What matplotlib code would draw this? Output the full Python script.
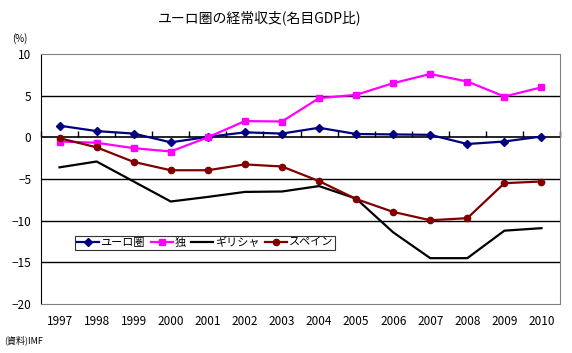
import numpy as np
import matplotlib
matplotlib.use("Agg")
import matplotlib.pyplot as plt

plt.rcParams['font.family'] = ['Noto Sans CJK JP', 'DejaVu Sans']

years = ["1997", "1998", "1999", "2000", "2001", "2002", "2003",
         "2004", "2005", "2006", "2007", "2008", "2009", "2010"]
euro = [1.4, 0.75, 0.45, -0.6, 0.05, 0.6, 0.45, 1.15, 0.4, 0.35, 0.3, -0.8, -0.5, 0.1]
germany = [-0.5, -0.65, -1.3, -1.7, 0.0, 1.95, 1.9, 4.7, 5.1, 6.5, 7.6, 6.7, 4.9, 6.0]
greece = [-3.6, -2.9, -5.3, -7.7, -7.15, -6.55, -6.5, -5.85, -7.35, -11.4, -14.5, -14.5, -11.2, -10.9]
spain = [-0.1, -1.2, -2.95, -3.95, -3.95, -3.25, -3.5, -5.25, -7.4, -8.95, -9.95, -9.7, -5.5, -5.3]

x = np.arange(len(years))

fig = plt.figure(figsize=(5.72, 3.53), dpi=100)
ax = fig.add_axes([41 / 572, 1 - 304 / 353, 519 / 572, 250 / 353])

ax.plot(x, euro, color="#000080", marker="D", markersize=4.5, lw=1.6, label="ユーロ圏")
ax.plot(x, germany, color="#FF00FF", marker="s", markersize=5, lw=1.6, label="独")
ax.plot(x, greece, color="black", lw=1.6, label="ギリシャ")
ax.plot(x, spain, color="#800000", marker="o", markersize=4.5, lw=1.6, label="スペイン")

for v in [5, -5, -10, -15]:
    ax.axhline(v, color="black", lw=1, zorder=0)
ax.axhline(0, color="black", lw=1.2, zorder=1)

ax.set_xlim(-0.5, len(years) - 0.5)
ax.set_ylim(-20, 10)
ax.set_yticks(range(-20, 11, 5))
ax.tick_params(axis="y", length=0, labelsize=8.5, pad=7)
ax.set_xticks(x)
ax.set_xticklabels(years)
ax.tick_params(axis="x", length=0, labelsize=8.5, pad=8)

for s in ["top", "right", "bottom"]:
    ax.spines[s].set_linestyle((0, (1, 1)))
    ax.spines[s].set_color("gray")
ax.spines["left"].set_color("black")

# category boundary ticks on the zero line, pointing up
sec = ax.secondary_xaxis(2 / 3)
sec.set_xticks(np.arange(-0.5, len(years) + 0.5, 1))
sec.xaxis.set_ticks_position("top")
sec.tick_params(axis="x", which="major", direction="out", length=4, width=1,
                top=True, bottom=False, labeltop=False, labelbottom=False, color="black")
sec.spines["top"].set_visible(False)
sec.spines["bottom"].set_visible(False)

leg = ax.legend(loc="upper left", bbox_to_anchor=(34 / 519, 68 / 250), ncol=4, fontsize=8,
                frameon=True, fancybox=False, edgecolor="black", borderpad=0.15,
                handlelength=2.0, handletextpad=0.15, columnspacing=0.5, borderaxespad=0)
leg.get_frame().set_linewidth(0.8)

fig.text(260 / 572, 1 - 18 / 353, "ユーロ圏の経常収支(名目GDP比)", ha="center", va="center", fontsize=10)
fig.text(20 / 572, 1 - 39 / 353, "(%)", ha="center", va="center", fontsize=7)
fig.text(4 / 572, 1 - 340 / 353, "(資料)IMF", ha="left", va="center", fontsize=6.5)

fig.savefig("out.png", dpi=100)
